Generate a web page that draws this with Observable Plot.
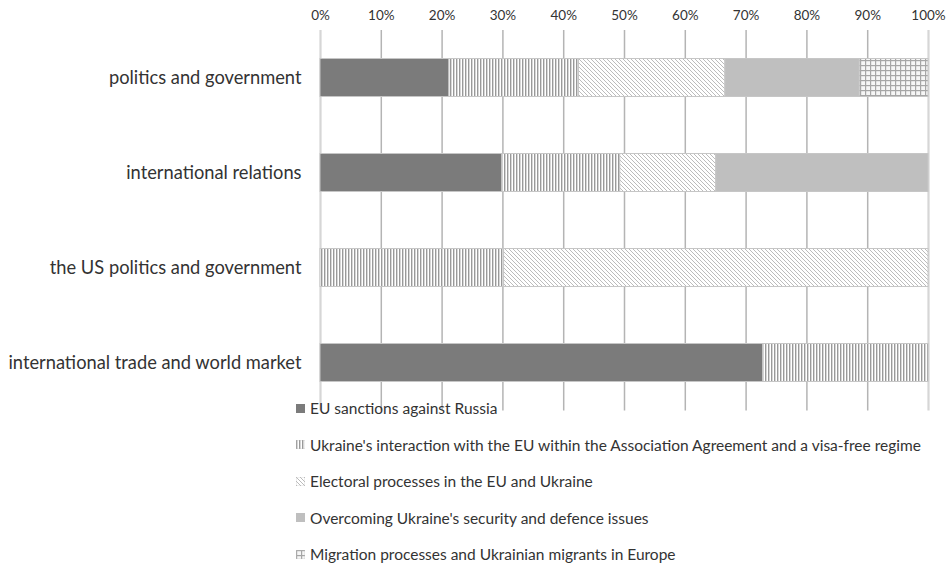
<!DOCTYPE html>
<html>
<head>
<meta charset="utf-8">
<script src="https://cdn.jsdelivr.net/npm/d3@7"></script>
<script src="https://cdn.jsdelivr.net/npm/@observablehq/plot@0.6"></script>
<style>
  html, body { margin: 0; padding: 0; background: #fff; }
  #wrap { position: relative; width: 948px; height: 566px; font-family: Lato, "Liberation Sans", sans-serif; }
  #legend { position: absolute; left: 296px; top: 390px; color: #333; font-size: 15.5px; }
  .item { height: 36.5px; display: flex; align-items: center; white-space: nowrap; }
  .item svg { margin-right: 5px; }
</style>
</head>
<body>
<svg width="0" height="0" style="position:absolute">
  <defs>
    <pattern id="pVert" width="3" height="4" patternUnits="userSpaceOnUse">
      <rect width="3" height="4" fill="#ffffff"/>
      <rect x="0" width="1.4" height="4" fill="#999999"/>
    </pattern>
    <pattern id="pDiag" width="4" height="4" patternUnits="userSpaceOnUse">
      <rect width="4" height="4" fill="#ffffff"/>
      <path d="M0,0 L4,4 M-1,3 L1,5 M3,-1 L5,1" stroke="#b4b4b4" stroke-width="0.9"/>
    </pattern>
    <pattern id="pGrid" width="5" height="5" patternUnits="userSpaceOnUse">
      <rect width="5" height="5" fill="#f6f6f6"/>
      <rect x="0" y="0" width="1.2" height="5" fill="#a6a6a6"/>
      <rect x="0" y="0" width="5" height="1.2" fill="#a6a6a6"/>
    </pattern>
  </defs>
</svg>
<div id="wrap">
  <div id="chart"></div>
  <div id="legend"></div>
</div>
<script>
// ---- data ----
const categories = [
  "politics and government",
  "international relations",
  "the US politics and government",
  "international trade and world market"
];
const seriesNames = [
  "EU sanctions against Russia",
  "Ukraine's interaction with the EU within the Association Agreement and a visa-free regime",
  "Electoral processes in the EU and Ukraine",
  "Overcoming Ukraine's security and defence issues",
  "Migration processes and Ukrainian migrants in Europe"
];
const euSanctions   = [21.2, 29.9, 0, 72.8];
const ukraineEU     = [21.3, 19.4, 30.2, 27.2];
const electoral     = [24.1, 15.8, 69.8, 0];
const security      = [22.1, 34.9, 0, 0];
const migration     = [11.3, 0, 0, 0];
const tickValues = [0, 10, 20, 30, 40, 50, 60, 70, 80, 90, 100];
const tickLabels = ["0%","10%","20%","30%","40%","50%","60%","70%","80%","90%","100%"];

// ---- styling ----
const fills = ["#7b7b7b", "url(#pVert)", "url(#pDiag)", "#bfbfbf", "url(#pGrid)"];
const seriesValues = [euSanctions, ukraineEU, electoral, security, migration];

const data = [];
seriesNames.forEach((s, si) => {
  categories.forEach((c, ci) => {
    data.push({category: c, series: s, value: seriesValues[si][ci], fill: fills[si]});
  });
});

const chart = Plot.plot({
  width: 948,
  height: 420,
  marginLeft: 320,
  marginRight: 20,
  marginTop: 30,
  marginBottom: 9.5,
  x: {domain: [0, 100]},
  y: {domain: categories, padding: 0},
  color: {type: "identity"},
  style: {fontFamily: "Lato, 'Liberation Sans', sans-serif", fontSize: "13px", color: "#333", background: "#fff"},
  marks: [
    Plot.gridX(tickValues.slice(1, -1), {stroke: "#b4b4b4", strokeOpacity: 1, strokeWidth: 1.5}),
    Plot.ruleX([0, 100], {stroke: "#d6d6d6", strokeWidth: 2.2}),
    Plot.barX(data, Plot.stackX({
      x: "value", y: "category", fill: "fill",
      insetTop: 28.5, insetBottom: 28.5,
      stroke: "#c6c6c6", strokeWidth: 1
    })),
    Plot.axisX({anchor: "top", ticks: tickValues, tickFormat: (d) => tickLabels[tickValues.indexOf(d)],
      tickSize: 0, tickPadding: 11, label: null, fontSize: 13.5}),
    Plot.axisY({tickSize: 0, tickPadding: 19, label: null, fontSize: 18.3})
  ]
});
document.getElementById("chart").appendChild(chart);

// ---- legend ----
const legend = document.getElementById("legend");
seriesNames.forEach((s, i) => {
  const item = document.createElement("div");
  item.className = "item";
  item.innerHTML = `<svg width="9" height="9"><rect width="9" height="9" fill="${fills[i]}" stroke="${i===0||i===3?'none':'#bdbdbd'}" stroke-width="0.5"/></svg><span>${s}</span>`;
  legend.appendChild(item);
});
</script>
</body>
</html>
